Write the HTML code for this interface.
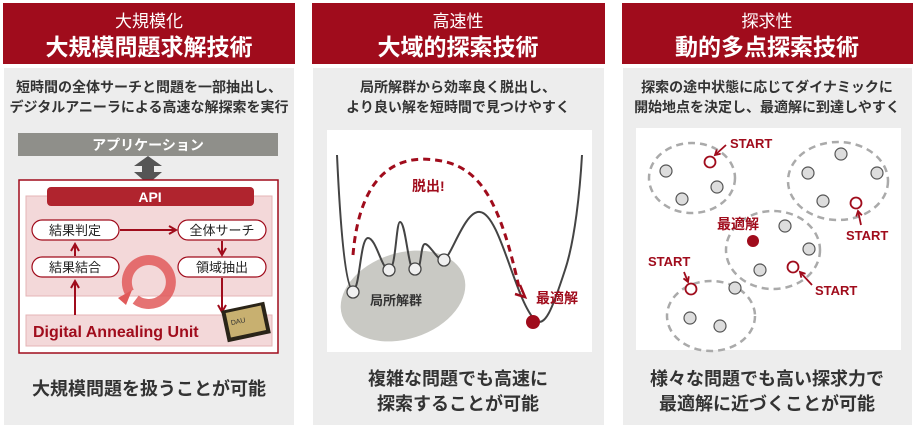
<!DOCTYPE html>
<html><head><meta charset="utf-8"><style>
html,body{margin:0;padding:0;background:#fff;}
svg{display:block;font-family:"Liberation Sans","Noto Sans CJK JP",sans-serif;}
</style></head><body>
<svg width="915" height="428" viewBox="0 0 915 428" xmlns="http://www.w3.org/2000/svg">
<defs>
<marker id="ar" viewBox="0 0 10 10" refX="8" refY="5" markerWidth="5" markerHeight="5" orient="auto"><path d="M1,1 L8,5 L1,9" fill="none" stroke="#a00c1c" stroke-width="2"/></marker>
<marker id="ar2" viewBox="0 0 10 10" refX="8" refY="5" markerWidth="4" markerHeight="4" orient="auto"><path d="M1,1 L8,5 L1,9" fill="none" stroke="#a00c1c" stroke-width="2.5"/></marker>
</defs>
<!-- headers -->
<g fill="#a00c1c"><rect x="3" y="3" width="292" height="61"/><rect x="312" y="3" width="293" height="61"/><rect x="622" y="3" width="291" height="61"/></g>
<g fill="#ededed"><rect x="4" y="68" width="290" height="357"/><rect x="313" y="68" width="291" height="357"/><rect x="623" y="68" width="289" height="357"/></g>
<g fill="#fff" text-anchor="middle">
<text x="149" y="27" font-size="17">大規模化</text>
<text x="149" y="55" font-size="23" font-weight="bold">大規模問題求解技術</text>
<text x="458" y="27" font-size="17">高速性</text>
<text x="458" y="55" font-size="23" font-weight="bold">大域的探索技術</text>
<text x="767" y="27" font-size="17">探求性</text>
<text x="767" y="55" font-size="23" font-weight="bold">動的多点探索技術</text>
</g>
<g fill="#333" text-anchor="middle" font-size="14" font-weight="bold">
<text x="149" y="92">短時間の全体サーチと問題を一部抽出し、</text>
<text x="149" y="112">デジタルアニーラによる高速な解探索を実行</text>
<text x="458" y="92">局所解群から効率良く脱出し、</text>
<text x="458" y="112">より良い解を短時間で見つけやすく</text>
<text x="767" y="92">探索の途中状態に応じてダイナミックに</text>
<text x="767" y="112">開始地点を決定し、最適解に到達しやすく</text>
</g>
<g fill="#333" text-anchor="middle" font-size="18" font-weight="bold">
<text x="149" y="395">大規模問題を扱うことが可能</text>
<text x="458" y="385">複雑な問題でも高速に</text>
<text x="458" y="410">探索することが可能</text>
<text x="767" y="385">様々な問題でも高い探求力で</text>
<text x="767" y="410">最適解に近づくことが可能</text>
</g>
<!-- panel 1 diagram -->
<rect x="18" y="133" width="260" height="23" fill="#8f8f8a"/>
<text x="148" y="150" fill="#fff" font-size="14" font-weight="bold" text-anchor="middle">アプリケーション</text>
<path d="M148,156 L162,166 L154,166 L154,172 L162,172 L148,184 L134,172 L142,172 L142,166 L134,166 Z" fill="#555"/>
<rect x="19" y="180" width="259" height="173" fill="#fff" stroke="#a00c1c" stroke-width="1.5"/>
<rect x="26" y="196" width="246" height="100" fill="#f3d8d9" stroke="#e5b4b6"/>
<rect x="26" y="315" width="246" height="31" fill="#f3d8d9" stroke="#e5b4b6"/>
<rect x="47" y="187" width="207" height="19" rx="4" fill="#b0242e"/>
<text x="150" y="202" fill="#fff" font-size="14" font-weight="bold" text-anchor="middle">API</text>
<g fill="#fff" stroke="#a00c1c" stroke-width="1.2">
<rect x="32" y="220" width="87" height="20" rx="10"/><rect x="178" y="220" width="88" height="20" rx="10"/>
<rect x="32" y="257" width="87" height="20" rx="10"/><rect x="178" y="257" width="88" height="20" rx="10"/>
</g>
<g font-size="13" fill="#222" text-anchor="middle">
<text x="75" y="235">結果判定</text><text x="222" y="235">全体サーチ</text>
<text x="75" y="272">結果結合</text><text x="222" y="272">領域抽出</text>
</g>
<g stroke="#a00c1c" stroke-width="2" fill="none" marker-end="url(#ar)">
<path d="M120,230 L176,230"/><path d="M222,241 L222,255"/><path d="M75,256 L75,244"/><path d="M75,315 L75,281"/><path d="M222,278 L222,312"/>
</g>
<path d="M130,290 A22,22 0 1 0 130,280" fill="none" stroke="#e05a5a" stroke-width="10" opacity="0.85" transform="rotate(-40 146 287)"/>
<path d="M118,298 L132,290 L126,305 Z" fill="#e05a5a"/>
<text x="33" y="337" fill="#a00c1c" font-size="16" font-weight="bold">Digital Annealing Unit</text>
<rect x="224" y="306" width="44" height="32" fill="#2a2418" transform="rotate(-12 246 322)"/>
<rect x="228" y="309" width="36" height="25" fill="#c8b070" transform="rotate(-12 246 322)"/>
<text x="231" y="322" font-size="7" fill="#333" transform="rotate(-12 246 322)">DAU</text>
<!-- panel 2 -->
<rect x="327" y="130" width="265" height="222" fill="#fff"/>
<ellipse cx="403" cy="296" rx="64" ry="43" fill="#c9c9c4" transform="rotate(-18 403 296)"/>
<text x="370" y="305" font-size="13" fill="#333" font-weight="bold">局所解群</text>
<path d="M337,155 C340,220 345,290 353,290 C360,290 360,238 368,238 C376,238 382,270 389,270 C396,270 396,222 400,222 C406,222 408,272 415,272 C422,272 420,244 425,244 C430,244 438,262 444,260 C452,255 465,210 480,212 C500,214 515,300 535,320 C545,328 552,310 565,270 C575,240 580,190 582,155" fill="none" stroke="#444" stroke-width="2"/>
<g fill="#f0f0f0" stroke="#444" stroke-width="1.3">
<circle cx="353" cy="292" r="6"/><circle cx="389" cy="270" r="6"/><circle cx="415" cy="269" r="6"/><circle cx="444" cy="260" r="6"/>
</g>
<circle cx="533" cy="322" r="7" fill="#a00c1c"/>
<path d="M353,255 C360,170 400,155 435,160 C480,165 500,200 520,292" fill="none" stroke="#a00c1c" stroke-width="3" stroke-dasharray="7,5"/>
<path d="M520,285 L525,297 L515,294" fill="none" stroke="#a00c1c" stroke-width="2.5"/>
<text x="412" y="191" font-size="14" font-weight="bold" fill="#a00c1c">脱出!</text>
<text x="536" y="303" font-size="14" font-weight="bold" fill="#a00c1c">最適解</text>
<!-- panel 3 -->
<rect x="636" y="128" width="265" height="222" fill="#fff"/>
<g fill="none" stroke="#aaa" stroke-width="2.5" stroke-dasharray="7,5">
<ellipse cx="692" cy="178" rx="43" ry="35"/><ellipse cx="838" cy="181" rx="50" ry="39"/>
<ellipse cx="773" cy="250" rx="47" ry="39"/><ellipse cx="711" cy="316" rx="44" ry="35"/>
</g>
<g fill="#ddd" stroke="#555" stroke-width="1.2">
<circle cx="666" cy="171" r="6"/><circle cx="682" cy="199" r="6"/><circle cx="717" cy="187" r="6"/>
<circle cx="841" cy="154" r="6"/><circle cx="808" cy="173" r="6"/><circle cx="877" cy="173" r="6"/><circle cx="823" cy="201" r="6"/>
<circle cx="785" cy="226" r="6"/><circle cx="809" cy="249" r="6"/><circle cx="760" cy="270" r="6"/>
<circle cx="735" cy="288" r="6"/><circle cx="690" cy="318" r="6"/><circle cx="720" cy="326" r="6"/>
</g>
<g fill="#fff" stroke="#a00c1c" stroke-width="1.8">
<circle cx="710" cy="162" r="5.5"/><circle cx="856" cy="203" r="5.5"/><circle cx="793" cy="267" r="5.5"/><circle cx="691" cy="289" r="5.5"/>
</g>
<circle cx="753" cy="241" r="6" fill="#a00c1c"/>
<g stroke="#a00c1c" stroke-width="1.8" fill="none" marker-end="url(#ar2)">
<path d="M726,145 L715,155"/><path d="M861,225 L858,211"/><path d="M812,285 L800,272"/><path d="M684,272 L688,282"/>
</g>
<g font-size="13" font-weight="bold" fill="#a00c1c">
<text x="730" y="148">START</text><text x="846" y="240">START</text><text x="815" y="295">START</text><text x="648" y="266">START</text>
<text x="717" y="229" font-size="14">最適解</text>
</g>
</svg>
</body></html>
